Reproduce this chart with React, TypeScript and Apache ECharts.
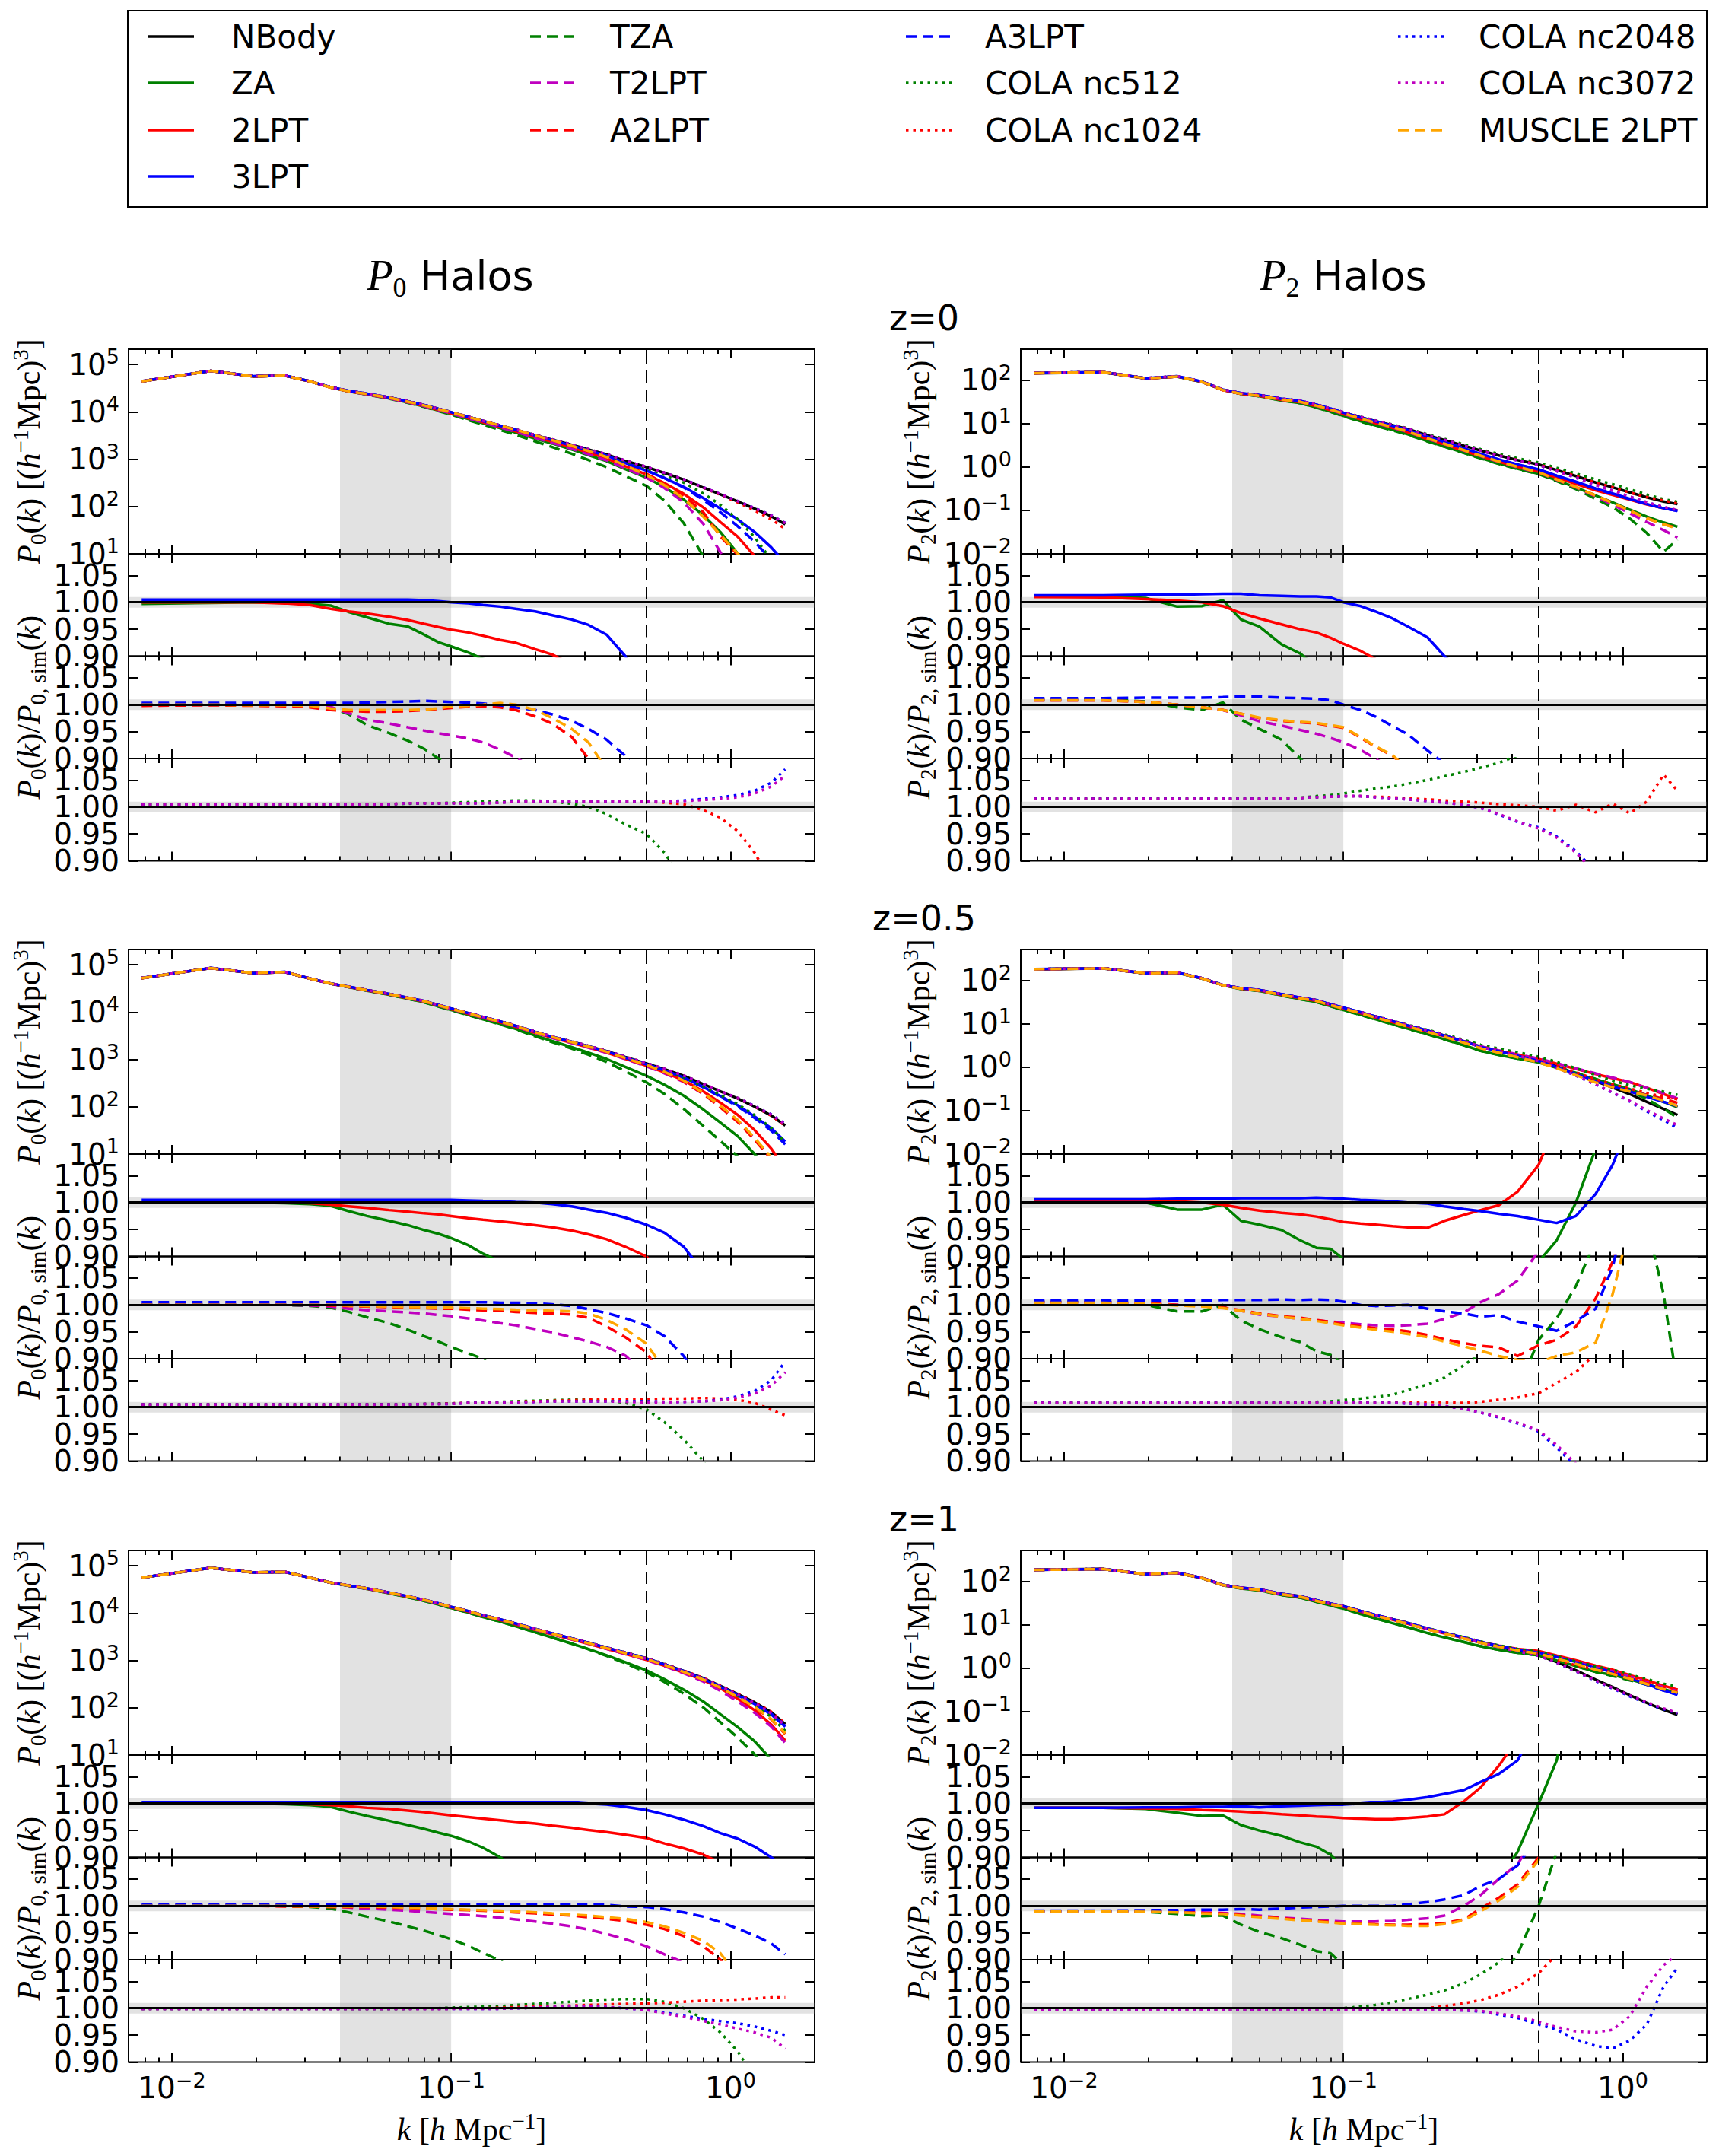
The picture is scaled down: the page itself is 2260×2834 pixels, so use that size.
import React, { useEffect, useRef } from 'react';
import * as echarts from 'echarts';

// ---------------- DATA ----------------
const K = [0.0078, 0.0138, 0.0196, 0.0254, 0.0312, 0.037, 0.043, 0.05, 0.06, 0.07, 0.08, 0.09, 0.1, 0.115, 0.13, 0.15, 0.17, 0.2, 0.23, 0.27, 0.31, 0.36, 0.42, 0.5, 0.58, 0.68, 0.8, 0.92, 1.06, 1.22, 1.4, 1.57];

const METHODS = ['NBody', 'ZA', '2LPT', '3LPT', 'TZA', 'T2LPT', 'A2LPT', 'A3LPT', 'COLA nc512', 'COLA nc1024', 'COLA nc2048', 'COLA nc3072', 'MUSCLE 2LPT'];
const COLORS = ['#000000', '#008000', '#ff0000', '#0000ff', '#008000', '#bf00bf', '#ff0000', '#0000ff', '#008000', '#ff0000', '#0000ff', '#bf00bf', '#ffa500'];
const STYLES = ['solid', 'solid', 'solid', 'solid', 'dashed', 'dashed', 'dashed', 'dashed', 'dotted', 'dotted', 'dotted', 'dotted', 'dashed'];
const RATIO_GROUPS = [[1, 2, 3], [4, 5, 6, 7, 12], [8, 9, 10, 11]];
const REDSHIFTS = ['z=0', 'z=0.5', 'z=1'];
const X_MAJOR = [0.01, 0.1, 1];
const X_MINOR = [0.008, 0.009, 0.02, 0.03, 0.04, 0.05, 0.06, 0.07, 0.08, 0.09, 0.2, 0.3, 0.4, 0.5, 0.6, 0.7, 0.8, 0.9];
const P0_TICKS = [10, 100, 1000, 10000, 100000];
const P2_TICKS = [0.01, 0.1, 1, 10, 100];
const RATIO_TICKS = [0.9, 0.95, 1.0, 1.05];
const SHADE_K = [0.04, 0.1];
const KNL = 0.5;

// NBody monopole / quadrupole, rows: z=0, 0.5, 1
const P0_Z0_NBODY = [44000, 73000, 56000, 58000, 44000, 33000, 27500, 24000, 20000, 16500, 13800, 11500, 9800, 7800, 6400, 5100, 4200, 3200, 2580, 2000, 1600, 1260, 920, 680, 510, 370, 250, 180, 128, 90, 62, 42];
const P0_Z05_NBODY = [52000, 85000, 66000, 70000, 51000, 40000, 34000, 29000, 24000, 20000, 17000, 14000, 11800, 9500, 7800, 6300, 5100, 3800, 3000, 2350, 1900, 1500, 1120, 820, 620, 450, 300, 210, 150, 100, 65, 40];
const P0_Z1_NBODY = [56000, 90000, 72000, 74000, 56000, 44000, 38000, 33000, 27000, 22500, 19000, 16000, 13500, 11000, 9000, 7300, 6000, 4600, 3700, 2900, 2350, 1850, 1450, 1100, 830, 600, 420, 290, 195, 130, 80, 45];
const P2_Z0_NBODY = [145, 152, 110, 122, 92, 60, 50, 45, 37, 33, 27, 22, 18, 14, 11.5, 9.2, 7.5, 5.4, 4.2, 3.1, 2.4, 1.85, 1.45, 1.15, 0.85, 0.62, 0.44, 0.34, 0.26, 0.2, 0.16, 0.14];
const P2_Z05_NBODY = [182, 190, 146, 152, 112, 78, 66, 60, 48, 40, 35, 28, 23.5, 18.5, 14.8, 11.5, 9.2, 7.0, 5.4, 4.0, 3.0, 2.4, 1.9, 1.45, 1.05, 0.72, 0.48, 0.34, 0.24, 0.16, 0.11, 0.08];
const P2_Z1_NBODY = [187, 195, 148, 160, 122, 84, 72, 66, 52, 46, 37, 31, 27, 21, 17, 13.5, 11, 8.2, 6.5, 5.0, 3.9, 3.1, 2.5, 2.0, 1.4, 0.9, 0.55, 0.37, 0.24, 0.16, 0.11, 0.085];

// ratios P/P_sim, rows in METHODS order without NBody
const P0_Z0_RATIOS = [
  /* ZA */ [0.997, 0.999, 1.0, 0.999, 0.997, 0.994, 0.982, 0.972, 0.96, 0.955, 0.94, 0.926, 0.918, 0.907, 0.895, 0.885, 0.87, 0.85, 0.83, 0.8, 0.76, 0.72, 0.67, 0.6, 0.5, 0.38, 0.26, 0.16, 0.08, 0.04, 0.02, 0.01],
  /* 2LPT */ [1.0, 1.0, 1.0, 0.998, 0.995, 0.988, 0.983, 0.979, 0.973, 0.967, 0.96, 0.954, 0.949, 0.944, 0.938, 0.93, 0.925, 0.913, 0.903, 0.885, 0.86, 0.82, 0.77, 0.7, 0.61, 0.5, 0.38, 0.26, 0.18, 0.1, 0.05, 0.025],
  /* 3LPT */ [1.005, 1.005, 1.005, 1.005, 1.005, 1.005, 1.005, 1.005, 1.005, 1.005, 1.004, 1.002, 1.0, 0.998, 0.995, 0.992, 0.988, 0.983, 0.976, 0.968, 0.958, 0.94, 0.9, 0.84, 0.78, 0.7, 0.6, 0.5, 0.42, 0.32, 0.22, 0.15],
  /* TZA */ [1.0, 1.0, 1.0, 1.0, 0.999, 0.995, 0.982, 0.962, 0.947, 0.933, 0.918, 0.9, 0.885, 0.86, 0.84, 0.81, 0.78, 0.74, 0.7, 0.65, 0.6, 0.54, 0.48, 0.4, 0.26, 0.12, 0.035, 0.01, 0.004, 0.002, 0.001, 0.001],
  /* T2LPT */ [1.0, 1.0, 1.0, 1.0, 1.0, 0.996, 0.984, 0.972, 0.965, 0.958, 0.952, 0.947, 0.943, 0.937, 0.93, 0.916, 0.902, 0.88, 0.86, 0.83, 0.79, 0.75, 0.7, 0.6, 0.48, 0.33, 0.17, 0.06, 0.02, 0.008, 0.003, 0.001],
  /* A2LPT */ [0.998, 0.999, 0.998, 0.997, 0.995, 0.99, 0.988, 0.987, 0.987, 0.988, 0.99, 0.992, 0.994, 0.996, 0.997, 0.995, 0.99, 0.978, 0.965, 0.94, 0.9, 0.86, 0.8, 0.72, 0.6, 0.46, 0.3, 0.13, 0.075, 0.035, 0.015, 0.007],
  /* A3LPT */ [1.003, 1.003, 1.003, 1.003, 1.003, 1.003, 1.003, 1.004, 1.005, 1.006, 1.007, 1.006, 1.005, 1.004, 1.002, 0.999, 0.995, 0.99, 0.982, 0.97, 0.955, 0.935, 0.905, 0.85, 0.78, 0.68, 0.55, 0.42, 0.3, 0.2, 0.12, 0.07],
  /* nc512 */ [1.005, 1.005, 1.005, 1.005, 1.005, 1.005, 1.005, 1.005, 1.005, 1.006, 1.007, 1.007, 1.008, 1.009, 1.01, 1.011, 1.012, 1.012, 1.01, 1.006, 1.0, 0.987, 0.968, 0.95, 0.915, 0.86, 0.75, 0.6, 0.42, 0.25, 0.12, 0.06],
  /* nc1024 */ [1.005, 1.005, 1.005, 1.005, 1.005, 1.005, 1.005, 1.005, 1.005, 1.007, 1.007, 1.007, 1.007, 1.007, 1.007, 1.008, 1.01, 1.01, 1.01, 1.01, 1.01, 1.011, 1.01, 1.01, 1.008, 1.005, 0.994, 0.98, 0.955, 0.915, 0.86, 0.8],
  /* nc2048 */ [1.005, 1.005, 1.005, 1.005, 1.005, 1.005, 1.005, 1.005, 1.005, 1.007, 1.007, 1.007, 1.007, 1.007, 1.007, 1.008, 1.01, 1.01, 1.01, 1.01, 1.01, 1.01, 1.01, 1.01, 1.01, 1.012, 1.015, 1.018, 1.022, 1.03, 1.045, 1.07],
  /* nc3072 */ [1.005, 1.005, 1.005, 1.005, 1.005, 1.005, 1.005, 1.005, 1.005, 1.007, 1.007, 1.007, 1.007, 1.007, 1.007, 1.008, 1.01, 1.01, 1.01, 1.01, 1.01, 1.01, 1.01, 1.01, 1.01, 1.011, 1.013, 1.015, 1.018, 1.025, 1.038, 1.058],
  /* MUSCLE */ [1.0, 1.0, 0.999, 0.999, 0.998, 0.993, 0.99, 0.99, 0.99, 0.99, 0.991, 0.993, 0.997, 0.998, 1.0, 1.003, 1.0, 0.99, 0.975, 0.955, 0.93, 0.88, 0.8, 0.68, 0.55, 0.4, 0.24, 0.14, 0.08, 0.04, 0.02, 0.01],
];
const P0_Z05_RATIOS = [
  /* ZA */ [1.0, 1.0, 1.0, 0.999, 0.997, 0.994, 0.984, 0.975, 0.966, 0.958, 0.949, 0.942, 0.934, 0.921, 0.905, 0.89, 0.87, 0.84, 0.81, 0.77, 0.73, 0.68, 0.62, 0.55, 0.47, 0.38, 0.29, 0.22, 0.16, 0.1, 0.06, 0.04],
  /* 2LPT */ [1.0, 1.0, 1.0, 1.0, 0.999, 0.996, 0.993, 0.99, 0.986, 0.983, 0.98, 0.978, 0.975, 0.971, 0.968, 0.965, 0.962, 0.958, 0.954, 0.948, 0.941, 0.932, 0.918, 0.9, 0.86, 0.8, 0.7, 0.58, 0.45, 0.32, 0.2, 0.12],
  /* 3LPT */ [1.005, 1.005, 1.005, 1.005, 1.005, 1.005, 1.005, 1.005, 1.005, 1.005, 1.005, 1.005, 1.005, 1.004, 1.003, 1.002, 1.001, 1.0, 0.997, 0.993, 0.987, 0.981, 0.972, 0.959, 0.944, 0.918, 0.87, 0.8, 0.72, 0.62, 0.54, 0.46],
  /* TZA */ [1.0, 1.0, 1.0, 1.0, 0.998, 0.995, 0.987, 0.977, 0.966, 0.954, 0.942, 0.932, 0.922, 0.91, 0.9, 0.87, 0.85, 0.81, 0.77, 0.72, 0.66, 0.59, 0.5, 0.4, 0.3, 0.2, 0.13, 0.09, 0.06, 0.035, 0.02, 0.01],
  /* T2LPT */ [1.0, 1.0, 1.0, 1.0, 0.999, 0.997, 0.993, 0.99, 0.988, 0.986, 0.984, 0.981, 0.979, 0.975, 0.971, 0.966, 0.962, 0.955, 0.949, 0.94, 0.932, 0.922, 0.906, 0.87, 0.82, 0.74, 0.62, 0.48, 0.34, 0.21, 0.12, 0.07],
  /* A2LPT */ [1.0, 1.0, 1.0, 1.0, 1.0, 0.999, 0.998, 0.997, 0.996, 0.995, 0.994, 0.993, 0.993, 0.991, 0.99, 0.989, 0.987, 0.985, 0.984, 0.982, 0.976, 0.96, 0.94, 0.912, 0.86, 0.76, 0.62, 0.46, 0.32, 0.2, 0.12, 0.07],
  /* A3LPT */ [1.005, 1.005, 1.005, 1.005, 1.005, 1.005, 1.005, 1.005, 1.005, 1.005, 1.005, 1.005, 1.005, 1.005, 1.005, 1.004, 1.004, 1.003, 1.001, 0.998, 0.992, 0.985, 0.975, 0.962, 0.942, 0.905, 0.85, 0.77, 0.68, 0.58, 0.48, 0.4],
  /* nc512 */ [1.005, 1.005, 1.005, 1.005, 1.005, 1.005, 1.005, 1.005, 1.005, 1.005, 1.006, 1.007, 1.007, 1.008, 1.009, 1.01, 1.011, 1.012, 1.013, 1.014, 1.014, 1.013, 1.008, 0.996, 0.972, 0.94, 0.9, 0.84, 0.76, 0.66, 0.55, 0.45],
  /* nc1024 */ [1.005, 1.005, 1.005, 1.005, 1.005, 1.005, 1.005, 1.005, 1.005, 1.005, 1.006, 1.006, 1.007, 1.008, 1.008, 1.009, 1.01, 1.011, 1.012, 1.013, 1.014, 1.015, 1.015, 1.015, 1.016, 1.016, 1.017, 1.016, 1.014, 1.008, 0.995, 0.985],
  /* nc2048 */ [1.005, 1.005, 1.005, 1.005, 1.005, 1.005, 1.005, 1.005, 1.005, 1.005, 1.006, 1.006, 1.006, 1.008, 1.008, 1.008, 1.009, 1.01, 1.011, 1.011, 1.011, 1.011, 1.011, 1.011, 1.01, 1.01, 1.011, 1.014, 1.02, 1.03, 1.05, 1.085],
  /* nc3072 */ [1.005, 1.005, 1.005, 1.005, 1.005, 1.005, 1.005, 1.005, 1.005, 1.005, 1.006, 1.006, 1.006, 1.008, 1.008, 1.008, 1.009, 1.01, 1.011, 1.011, 1.011, 1.011, 1.01, 1.009, 1.009, 1.01, 1.011, 1.013, 1.018, 1.025, 1.04, 1.065],
  /* MUSCLE */ [1.0, 1.0, 1.0, 1.0, 1.0, 1.0, 0.999, 0.998, 0.997, 0.996, 0.996, 0.995, 0.995, 0.994, 0.993, 0.992, 0.991, 0.99, 0.989, 0.988, 0.984, 0.972, 0.955, 0.928, 0.88, 0.79, 0.65, 0.5, 0.35, 0.22, 0.13, 0.08],
];
const P0_Z1_RATIOS = [
  /* ZA */ [1.0, 1.0, 1.0, 0.999, 0.997, 0.994, 0.985, 0.977, 0.968, 0.96, 0.953, 0.946, 0.94, 0.93, 0.918, 0.9, 0.88, 0.85, 0.82, 0.78, 0.74, 0.69, 0.63, 0.56, 0.48, 0.4, 0.32, 0.25, 0.2, 0.15, 0.1, 0.06],
  /* 2LPT */ [1.0, 1.0, 1.0, 1.0, 0.999, 0.997, 0.995, 0.992, 0.99, 0.987, 0.984, 0.981, 0.978, 0.975, 0.972, 0.969, 0.966, 0.963, 0.959, 0.955, 0.951, 0.947, 0.942, 0.936, 0.926, 0.917, 0.905, 0.89, 0.8, 0.68, 0.55, 0.45],
  /* 3LPT */ [1.002, 1.002, 1.002, 1.002, 1.002, 1.002, 1.002, 1.002, 1.002, 1.002, 1.002, 1.002, 1.002, 1.002, 1.002, 1.002, 1.002, 1.002, 1.002, 1.002, 1.0, 0.998, 0.994, 0.988, 0.98, 0.97, 0.958, 0.945, 0.935, 0.92, 0.9, 0.88],
  /* TZA */ [1.0, 1.0, 1.0, 1.0, 0.998, 0.995, 0.988, 0.98, 0.971, 0.962, 0.954, 0.946, 0.938, 0.926, 0.913, 0.898, 0.88, 0.85, 0.82, 0.78, 0.73, 0.67, 0.6, 0.51, 0.42, 0.33, 0.24, 0.17, 0.12, 0.08, 0.05, 0.03],
  /* T2LPT */ [1.0, 1.0, 1.0, 1.0, 1.0, 0.999, 0.997, 0.995, 0.993, 0.991, 0.989, 0.987, 0.985, 0.983, 0.981, 0.978, 0.975, 0.971, 0.967, 0.962, 0.956, 0.948, 0.938, 0.925, 0.91, 0.895, 0.85, 0.78, 0.7, 0.6, 0.5, 0.4],
  /* A2LPT */ [1.0, 1.0, 1.0, 0.999, 0.999, 0.998, 0.998, 0.998, 0.997, 0.996, 0.995, 0.994, 0.993, 0.992, 0.991, 0.99, 0.988, 0.986, 0.984, 0.982, 0.979, 0.976, 0.972, 0.965, 0.957, 0.944, 0.925, 0.9, 0.85, 0.78, 0.7, 0.62],
  /* A3LPT */ [1.002, 1.002, 1.002, 1.002, 1.002, 1.002, 1.002, 1.002, 1.002, 1.002, 1.002, 1.002, 1.002, 1.002, 1.002, 1.002, 1.002, 1.002, 1.002, 1.002, 1.002, 1.002, 0.999, 0.998, 0.994, 0.988, 0.98, 0.97, 0.958, 0.945, 0.93, 0.91],
  /* nc512 */ [0.999, 0.999, 0.999, 0.999, 0.999, 0.999, 0.999, 0.999, 0.999, 0.999, 1.0, 1.0, 1.001, 1.002, 1.003, 1.004, 1.006, 1.008, 1.01, 1.012, 1.014, 1.016, 1.017, 1.017, 1.012, 1.0, 0.98, 0.955, 0.92, 0.87, 0.8, 0.72],
  /* nc1024 */ [0.999, 0.999, 0.999, 0.999, 0.999, 0.999, 0.999, 0.999, 0.999, 0.999, 0.999, 0.999, 0.999, 1.0, 1.0, 1.001, 1.002, 1.003, 1.004, 1.005, 1.006, 1.007, 1.008, 1.009, 1.01, 1.012, 1.014, 1.015, 1.016, 1.018, 1.02, 1.02],
  /* nc2048 */ [0.999, 0.999, 0.999, 0.999, 0.999, 0.999, 0.999, 0.999, 0.999, 0.999, 0.999, 0.999, 0.999, 0.999, 0.999, 0.999, 1.0, 1.001, 1.002, 1.003, 1.003, 1.002, 1.0, 0.997, 0.992, 0.986, 0.98, 0.976, 0.972, 0.966, 0.958, 0.95],
  /* nc3072 */ [0.999, 0.999, 0.999, 0.999, 0.999, 0.999, 0.999, 0.999, 0.999, 0.999, 0.999, 0.999, 0.999, 0.999, 0.999, 0.999, 1.0, 1.001, 1.002, 1.003, 1.003, 1.002, 1.0, 0.997, 0.99, 0.984, 0.976, 0.97, 0.962, 0.955, 0.945, 0.925],
  /* MUSCLE */ [1.0, 1.0, 1.0, 1.0, 0.999, 0.999, 0.999, 0.999, 0.998, 0.997, 0.996, 0.995, 0.994, 0.993, 0.992, 0.991, 0.99, 0.988, 0.986, 0.984, 0.982, 0.979, 0.976, 0.97, 0.962, 0.95, 0.935, 0.912, 0.87, 0.8, 0.72, 0.64],
];
const P2_Z0_RATIOS = [
  /* ZA */ [1.011, 1.011, 1.008, 0.992, 0.993, 1.004, 0.968, 0.955, 0.922, 0.905, 0.88, 0.86, 0.84, 0.82, 0.8, 0.78, 0.76, 0.73, 0.71, 0.69, 0.67, 0.65, 0.63, 0.61, 0.58, 0.55, 0.5, 0.45, 0.4, 0.36, 0.33, 0.3],
  /* 2LPT */ [1.01, 1.009, 1.006, 1.003, 1.0, 0.993, 0.98, 0.97, 0.959, 0.95, 0.944, 0.934, 0.923, 0.91, 0.895, 0.87, 0.85, 0.82, 0.79, 0.76, 0.74, 0.72, 0.7, 0.68, 0.67, 0.66, 0.66, 0.67, 0.68, 0.69, 0.7, 0.72],
  /* 3LPT */ [1.013, 1.013, 1.014, 1.014, 1.015, 1.016, 1.016, 1.013, 1.012, 1.011, 1.011, 1.009, 1.0, 0.993, 0.983, 0.97, 0.955, 0.935, 0.9, 0.87, 0.84, 0.81, 0.79, 0.77, 0.75, 0.74, 0.73, 0.72, 0.71, 0.7, 0.7, 0.7],
  /* TZA */ [1.01, 1.01, 1.006, 0.995, 0.99, 1.004, 0.972, 0.955, 0.935, 0.9, 0.87, 0.85, 0.83, 0.8, 0.78, 0.76, 0.74, 0.72, 0.7, 0.68, 0.66, 0.64, 0.62, 0.6, 0.56, 0.5, 0.42, 0.35, 0.25, 0.15, 0.07, 0.15],
  /* T2LPT */ [1.008, 1.008, 1.005, 1.0, 0.995, 0.99, 0.98, 0.969, 0.961, 0.953, 0.946, 0.938, 0.93, 0.916, 0.9, 0.88, 0.86, 0.83, 0.8, 0.77, 0.74, 0.71, 0.68, 0.65, 0.6, 0.55, 0.48, 0.4, 0.33, 0.27, 0.22, 0.17],
  /* A2LPT */ [1.008, 1.008, 1.005, 1.0, 0.995, 0.99, 0.983, 0.975, 0.97, 0.967, 0.965, 0.961, 0.957, 0.939, 0.922, 0.905, 0.88, 0.85, 0.82, 0.79, 0.76, 0.73, 0.7, 0.66, 0.61, 0.56, 0.5, 0.44, 0.38, 0.33, 0.3, 0.28],
  /* A3LPT */ [1.012, 1.012, 1.013, 1.013, 1.013, 1.014, 1.015, 1.015, 1.013, 1.012, 1.011, 1.008, 1.0, 0.99, 0.978, 0.96, 0.945, 0.915, 0.89, 0.86, 0.83, 0.8, 0.78, 0.76, 0.74, 0.73, 0.72, 0.71, 0.7, 0.7, 0.7, 0.7],
  /* nc512 */ [1.015, 1.015, 1.015, 1.015, 1.015, 1.015, 1.015, 1.015, 1.016, 1.017, 1.02, 1.022, 1.025, 1.03, 1.034, 1.038, 1.043, 1.05, 1.057, 1.065, 1.073, 1.082, 1.095, 1.11, 1.13, 1.15, 1.17, 1.18, 1.18, 1.16, 1.14, 1.12],
  /* nc1024 */ [1.015, 1.015, 1.015, 1.015, 1.015, 1.015, 1.015, 1.015, 1.016, 1.017, 1.018, 1.019, 1.02, 1.02, 1.019, 1.018, 1.016, 1.014, 1.012, 1.01, 1.008, 1.005, 1.003, 1.0, 0.993, 1.004, 0.99, 1.006, 0.988, 1.01, 1.06, 1.03],
  /* nc2048 */ [1.015, 1.015, 1.015, 1.015, 1.015, 1.015, 1.015, 1.015, 1.016, 1.017, 1.018, 1.019, 1.02, 1.02, 1.018, 1.016, 1.014, 1.011, 1.008, 1.004, 0.998, 0.986, 0.972, 0.962, 0.945, 0.918, 0.88, 0.84, 0.8, 0.77, 0.74, 0.72],
  /* nc3072 */ [1.015, 1.015, 1.015, 1.015, 1.015, 1.015, 1.015, 1.015, 1.016, 1.017, 1.018, 1.019, 1.02, 1.02, 1.018, 1.016, 1.014, 1.011, 1.008, 1.004, 0.998, 0.987, 0.973, 0.96, 0.943, 0.915, 0.877, 0.84, 0.8, 0.77, 0.75, 0.73],
  /* MUSCLE */ [1.008, 1.008, 1.005, 1.0, 0.995, 0.99, 0.983, 0.976, 0.971, 0.968, 0.966, 0.962, 0.958, 0.94, 0.923, 0.906, 0.88, 0.85, 0.82, 0.79, 0.76, 0.73, 0.7, 0.66, 0.61, 0.56, 0.5, 0.44, 0.38, 0.33, 0.3, 0.27],
];
const P2_Z05_RATIOS = [
  /* ZA */ [1.005, 1.004, 1.0, 0.987, 0.987, 0.996, 0.966, 0.959, 0.949, 0.93, 0.916, 0.914, 0.895, 0.88, 0.87, 0.86, 0.85, 0.83, 0.82, 0.81, 0.8, 0.8, 0.83, 0.89, 0.93, 1.0, 1.1, 1.2, 1.3, 1.4, 1.45, 1.5],
  /* 2LPT */ [1.005, 1.005, 1.004, 1.002, 1.0, 0.996, 0.99, 0.985, 0.981, 0.978, 0.974, 0.969, 0.964, 0.961, 0.959, 0.956, 0.954, 0.953, 0.966, 0.977, 0.986, 0.995, 1.02, 1.07, 1.15, 1.27, 1.45, 1.65, 1.9, 2.1, 2.2, 2.3],
  /* 3LPT */ [1.006, 1.006, 1.006, 1.007, 1.007, 1.007, 1.008, 1.008, 1.008, 1.008, 1.009, 1.008, 1.007, 1.005, 1.004, 1.002, 1.0, 0.998, 0.993, 0.988, 0.984, 0.979, 0.975, 0.968, 0.962, 0.975, 1.016, 1.07, 1.15, 1.3, 1.45, 1.6],
  /* TZA */ [1.006, 1.005, 1.0, 0.988, 0.988, 1.0, 0.971, 0.955, 0.94, 0.931, 0.914, 0.907, 0.89, 0.87, 0.86, 0.85, 0.84, 0.82, 0.81, 0.8, 0.8, 0.81, 0.84, 0.935, 0.975, 1.035, 1.12, 1.18, 1.2, 1.15, 1.02, 0.85],
  /* T2LPT */ [1.005, 1.005, 1.003, 1.0, 0.998, 0.995, 0.989, 0.982, 0.978, 0.974, 0.971, 0.969, 0.967, 0.964, 0.962, 0.961, 0.962, 0.965, 0.974, 0.986, 1.005, 1.02, 1.045, 1.1, 1.18, 1.3, 1.5, 1.7, 1.9, 2.1, 2.3, 2.4],
  /* A2LPT */ [1.005, 1.005, 1.003, 1.0, 0.998, 0.995, 0.99, 0.984, 0.979, 0.976, 0.972, 0.968, 0.964, 0.96, 0.957, 0.954, 0.951, 0.944, 0.936, 0.929, 0.924, 0.921, 0.905, 0.925, 0.935, 0.96, 1.012, 1.08, 1.2, 1.45, 1.7, 1.9],
  /* A3LPT */ [1.008, 1.008, 1.008, 1.008, 1.008, 1.009, 1.009, 1.009, 1.01, 1.009, 1.01, 1.009, 1.006, 1.0, 0.998, 0.999, 1.0, 0.993, 0.988, 0.984, 0.978, 0.981, 0.969, 0.96, 0.952, 0.97, 0.993, 1.07, 1.2, 1.4, 1.55, 1.6],
  /* nc512 */ [1.008, 1.008, 1.008, 1.008, 1.008, 1.008, 1.008, 1.008, 1.008, 1.009, 1.01, 1.011, 1.013, 1.016, 1.019, 1.023, 1.032, 1.042, 1.055, 1.078, 1.1, 1.13, 1.17, 1.21, 1.26, 1.32, 1.38, 1.45, 1.6, 2.0, 2.5, 2.9],
  /* nc1024 */ [1.008, 1.008, 1.008, 1.008, 1.008, 1.008, 1.008, 1.008, 1.008, 1.01, 1.01, 1.01, 1.01, 1.01, 1.01, 1.01, 1.01, 1.01, 1.009, 1.008, 1.01, 1.014, 1.018, 1.026, 1.045, 1.065, 1.1, 1.2, 1.35, 1.6, 1.9, 2.3],
  /* nc2048 */ [1.008, 1.008, 1.008, 1.008, 1.008, 1.008, 1.008, 1.008, 1.008, 1.008, 1.008, 1.008, 1.008, 1.008, 1.008, 1.008, 1.007, 1.005, 1.002, 0.997, 0.99, 0.981, 0.97, 0.955, 0.925, 0.89, 0.83, 0.76, 0.68, 0.6, 0.55, 0.5],
  /* nc3072 */ [1.008, 1.008, 1.008, 1.008, 1.008, 1.008, 1.008, 1.008, 1.008, 1.008, 1.008, 1.008, 1.008, 1.008, 1.008, 1.008, 1.007, 1.005, 1.002, 0.997, 0.99, 0.982, 0.971, 0.957, 0.93, 0.895, 0.84, 0.77, 0.7, 0.64, 0.6, 0.58],
  /* MUSCLE */ [1.004, 1.004, 1.002, 0.999, 0.997, 0.994, 0.989, 0.983, 0.978, 0.974, 0.97, 0.966, 0.962, 0.958, 0.954, 0.95, 0.946, 0.94, 0.932, 0.923, 0.915, 0.905, 0.898, 0.893, 0.905, 0.912, 0.93, 1.02, 1.15, 1.4, 1.55, 1.6],
];
const P2_Z1_RATIOS = [
  /* ZA */ [0.992, 0.992, 0.99, 0.983, 0.977, 0.978, 0.96, 0.95, 0.94, 0.928, 0.92, 0.905, 0.88, 0.85, 0.83, 0.81, 0.8, 0.79, 0.79, 0.8, 0.82, 0.86, 0.91, 1.0, 1.08, 1.25, 1.5, 1.9, 2.3, 2.7, 3.0, 3.2],
  /* 2LPT */ [0.992, 0.992, 0.991, 0.99, 0.988, 0.987, 0.985, 0.983, 0.98, 0.978, 0.976, 0.975, 0.973, 0.972, 0.971, 0.971, 0.973, 0.976, 0.98, 1.004, 1.03, 1.07, 1.12, 1.25, 1.4, 1.7, 2.1, 2.5, 2.9, 3.3, 3.6, 3.8],
  /* 3LPT */ [0.992, 0.992, 0.993, 0.993, 0.994, 0.994, 0.995, 0.993, 0.995, 0.996, 0.997, 0.998, 0.998, 1.0, 1.002, 1.004, 1.007, 1.012, 1.018, 1.025, 1.04, 1.055, 1.08, 1.15, 1.3, 1.55, 1.9, 2.2, 2.5, 2.7, 2.8, 2.9],
  /* TZA */ [0.99, 0.99, 0.989, 0.985, 0.981, 0.982, 0.965, 0.952, 0.94, 0.928, 0.916, 0.912, 0.89, 0.86, 0.84, 0.82, 0.81, 0.8, 0.8, 0.81, 0.83, 0.86, 0.91, 1.0, 1.1, 1.25, 1.5, 1.8, 2.2, 2.6, 2.9, 3.1],
  /* T2LPT */ [0.99, 0.99, 0.99, 0.989, 0.988, 0.987, 0.985, 0.982, 0.978, 0.976, 0.974, 0.972, 0.971, 0.971, 0.971, 0.972, 0.974, 0.977, 0.982, 1.0, 1.02, 1.05, 1.077, 1.14, 1.3, 1.55, 1.9, 2.3, 2.7, 3.0, 3.3, 3.5],
  /* A2LPT */ [0.99, 0.99, 0.99, 0.989, 0.987, 0.986, 0.983, 0.98, 0.977, 0.974, 0.972, 0.97, 0.968, 0.967, 0.966, 0.965, 0.965, 0.966, 0.968, 0.975, 0.995, 1.015, 1.04, 1.09, 1.2, 1.4, 1.7, 2.0, 2.4, 2.8, 3.1, 3.3],
  /* A3LPT */ [0.991, 0.991, 0.992, 0.992, 0.993, 0.993, 0.994, 0.993, 0.995, 0.997, 0.998, 0.999, 1.0, 1.0, 1.0, 1.0, 1.003, 1.007, 1.012, 1.02, 1.037, 1.05, 1.075, 1.13, 1.25, 1.5, 1.8, 2.1, 2.4, 2.6, 2.8, 2.9],
  /* nc512 */ [0.997, 0.997, 0.997, 0.997, 0.997, 0.997, 0.997, 0.997, 0.997, 0.997, 0.998, 0.999, 1.0, 1.003, 1.006, 1.011, 1.017, 1.025, 1.033, 1.046, 1.063, 1.085, 1.12, 1.2, 1.35, 1.6, 2.0, 2.5, 3.0, 3.5, 4.0, 4.5],
  /* nc1024 */ [0.997, 0.997, 0.997, 0.997, 0.997, 0.997, 0.997, 0.997, 0.997, 0.997, 0.997, 0.997, 0.997, 0.997, 0.997, 0.997, 0.998, 1.0, 1.004, 1.009, 1.015, 1.025, 1.04, 1.065, 1.1, 1.3, 1.7, 2.2, 2.7, 3.1, 3.5, 3.8],
  /* nc2048 */ [0.997, 0.997, 0.997, 0.997, 0.997, 0.997, 0.997, 0.997, 0.997, 0.997, 0.997, 0.997, 0.997, 0.997, 0.997, 0.997, 0.997, 0.997, 0.997, 0.996, 0.994, 0.988, 0.982, 0.97, 0.96, 0.942, 0.93, 0.925, 0.94, 0.97, 1.04, 1.075],
  /* nc3072 */ [0.997, 0.997, 0.997, 0.997, 0.997, 0.997, 0.997, 0.997, 0.997, 0.997, 0.997, 0.997, 0.997, 0.997, 0.997, 0.997, 0.997, 0.997, 0.997, 0.996, 0.995, 0.99, 0.985, 0.975, 0.965, 0.957, 0.955, 0.96, 0.985, 1.04, 1.08, 1.1],
  /* MUSCLE */ [0.99, 0.99, 0.989, 0.988, 0.986, 0.985, 0.982, 0.979, 0.976, 0.973, 0.971, 0.969, 0.967, 0.966, 0.965, 0.964, 0.963, 0.963, 0.966, 0.973, 0.99, 1.01, 1.035, 1.085, 1.2, 1.4, 1.7, 2.0, 2.4, 2.7, 3.0, 3.2],
];

const NBODY = [[P0_Z0_NBODY, P0_Z05_NBODY, P0_Z1_NBODY], [P2_Z0_NBODY, P2_Z05_NBODY, P2_Z1_NBODY]];
const RATIOS = [[P0_Z0_RATIOS, P0_Z05_RATIOS, P0_Z1_RATIOS], [P2_Z0_RATIOS, P2_Z05_RATIOS, P2_Z1_RATIOS]];

// ---------------- LAYOUT ----------------
const W = 2260;
const H = 2834;
const XMIN = 0.007;
const XMAX = 2.0;
const LEFTS = [169, 1342];
const PW = 902;
const ROW_TOPS = [459, 1248, 2038];
const MAIN_H = 269;
const RAT_H = 134.5;
const TICK_FONT = 'DejaVu Sans';
const SERIF = 'Liberation Serif';
const BAND = 'rgba(128,128,128,0.23)';
const LW = 3.5;

const dashOf = (s: string): any => (s === 'dashed' ? [14, 8] : s === 'dotted' ? [3.5, 6] : 'solid');
const expFmt = (v: number) => {
  const e = Math.round(Math.log10(v));
  return `{b|10}{s|${e < 0 ? '\u2212' + -e : e}}`;
};

const TICK_RICH = {
  b: { fontFamily: TICK_FONT, fontSize: 39, lineHeight: 48, color: '#000' },
  s: { fontFamily: TICK_FONT, fontSize: 27, lineHeight: 27, verticalAlign: 'top', color: '#000' },
};

const MATH_RICH: any = {
  i: { fontFamily: SERIF, fontStyle: 'italic', fontSize: 42, lineHeight: 52, fill: '#000', color: '#000' },
  r: { fontFamily: SERIF, fontSize: 42, lineHeight: 52, fill: '#000', color: '#000' },
  sub: { fontFamily: SERIF, fontSize: 29, lineHeight: 29, verticalAlign: 'bottom', fill: '#000', color: '#000' },
  sup: { fontFamily: SERIF, fontSize: 29, lineHeight: 29, verticalAlign: 'top', fill: '#000', color: '#000' },
};
const TITLE_RICH: any = {
  i: { fontFamily: SERIF, fontStyle: 'italic', fontSize: 56, lineHeight: 68, fill: '#000', color: '#000' },
  sub: { fontFamily: SERIF, fontSize: 36, lineHeight: 36, verticalAlign: 'bottom', fill: '#000', color: '#000' },
  t: { fontFamily: TICK_FONT, fontSize: 54, lineHeight: 68, fill: '#000', color: '#000' },
};

const Y_MAIN = [
  { type: 'log', min: 10, max: 210000, ticks: P0_TICKS, labelSets: [P0_TICKS], fmt: expFmt, rich: true },
  { type: 'log', min: 0.01, max: 520, ticks: P2_TICKS, labelSets: [P2_TICKS], fmt: expFmt, rich: true },
];
// ratio labels are split over two coincident axes so that neighbouring labels are never culled
const Y_RATIO = { type: 'value', min: 0.9, max: 1.09, ticks: RATIO_TICKS, labelSets: [[RATIO_TICKS[0], RATIO_TICKS[2]], [RATIO_TICKS[1], RATIO_TICKS[3]]], fmt: (v: number) => v.toFixed(2), rich: false };

const Y_LABEL_MAIN = ['{i|P}{sub|0}{r|(}{i|k}{r|) [(}{i|h}{sup|\u22121}{r|Mpc)}{sup|3}{r|]}', '{i|P}{sub|2}{r|(}{i|k}{r|) [(}{i|h}{sup|\u22121}{r|Mpc)}{sup|3}{r|]}'];
const Y_LABEL_RATIO = ['{i|P}{sub|0}{r|(}{i|k}{r|)/}{i|P}{sub|0, sim}{r|(}{i|k}{r|)}', '{i|P}{sub|2}{r|(}{i|k}{r|)/}{i|P}{sub|2, sim}{r|(}{i|k}{r|)}'];
const TITLES = ['{i|P}{sub|0}{t| Halos}', '{i|P}{sub|2}{t| Halos}'];
const TITLE_X = [592, 1766];
const YLAB_X = [38, 1208];

function buildOption(): any {
  const grid: any[] = [];
  const xAxis: any[] = [];
  const yAxis: any[] = [];
  const series: any[] = [];
  const elements: any[] = [];

  const labelBase = { showMinLabel: true, showMaxLabel: true, hideOverlap: false, color: '#000', fontFamily: TICK_FONT, fontSize: 39 };
  const noLine = { show: false, onZero: false };
  const noSplit = { splitLine: { show: false }, minorTick: { show: false }, minorSplitLine: { show: false } };

  const addPanel = (left: number, top: number, height: number, y: any, showX: boolean) => {
    const g = grid.length;
    grid.push({ left, top, width: PW, height, show: true, borderColor: '#000', borderWidth: 2, backgroundColor: 'rgba(0,0,0,0)', containLabel: false, outerBoundsMode: 'none' });
    const xi = xAxis.length;
    ['bottom', 'top'].forEach((pos) => {
      [true, false].forEach((major) => {
        const label = showX && pos === 'bottom' && major
          ? { ...labelBase, show: true, customValues: X_MAJOR, formatter: expFmt, rich: TICK_RICH, margin: 10 }
          : { show: false };
        xAxis.push({
          type: 'log', logBase: 10, gridIndex: g, min: XMIN, max: XMAX, position: pos, silent: true,
          axisLine: noLine,
          axisTick: { show: true, inside: true, length: major ? 12 : 6, customValues: major ? X_MAJOR : X_MINOR, lineStyle: { color: '#000', width: 2 } },
          axisLabel: label,
          ...noSplit,
        });
      });
    });
    const yi = yAxis.length;
    // left axes carry labels (first one also carries ticks and the series)
    y.labelSets.forEach((vals: number[], si: number) => {
      const lab: any = y.rich
        ? { ...labelBase, show: true, customValues: vals, formatter: y.fmt, rich: TICK_RICH, margin: 12 }
        : { ...labelBase, show: true, customValues: vals, formatter: y.fmt, margin: 12 };
      yAxis.push({
        type: y.type, logBase: 10, gridIndex: g, min: y.min, max: y.max, position: 'left', silent: true,
        axisLine: noLine,
        axisTick: si === 0 ? { show: true, inside: true, length: 12, customValues: y.ticks, lineStyle: { color: '#000', width: 2 } } : { show: false },
        axisLabel: lab,
        ...noSplit,
      });
    });
    yAxis.push({
      type: y.type, logBase: 10, gridIndex: g, min: y.min, max: y.max, position: 'right', silent: true,
      axisLine: noLine,
      axisTick: { show: true, inside: true, length: 12, customValues: y.ticks, lineStyle: { color: '#000', width: 2 } },
      axisLabel: { show: false },
      ...noSplit,
    });
    return { xi, yi };
  };

  const addHelper = (p: { xi: number; yi: number }, isRatio: boolean) => {
    const areas: any[] = [[{ xAxis: SHADE_K[0] }, { xAxis: SHADE_K[1] }]];
    if (isRatio) areas.push([{ yAxis: 0.99 }, { yAxis: 1.01 }]);
    const lines: any[] = [{ xAxis: KNL, lineStyle: { type: [16, 9], color: '#000', width: 2 } }];
    if (isRatio) lines.push({ yAxis: 1.0, lineStyle: { type: 'solid', color: '#000', width: 3 } });
    series.push({
      type: 'line', xAxisIndex: p.xi, yAxisIndex: p.yi, data: [], z: 1, silent: true, symbol: 'none',
      markArea: { silent: true, itemStyle: { color: BAND, borderWidth: 0 }, label: { show: false }, data: areas },
      markLine: { silent: true, symbol: ['none', 'none'], label: { show: false }, data: lines },
    });
  };

  const addLine = (p: { xi: number; yi: number }, mi: number, data: number[][]) => {
    series.push({
      type: 'line', name: METHODS[mi], xAxisIndex: p.xi, yAxisIndex: p.yi, data, z: 3,
      symbol: 'none', showSymbol: false, silent: true, clip: true,
      lineStyle: { color: COLORS[mi], width: LW, type: dashOf(STYLES[mi]), cap: 'butt' },
    });
  };

  [0, 1].forEach((c) => {
    REDSHIFTS.forEach((_, r) => {
      const nb = NBODY[c][r];
      const rt = RATIOS[c][r];
      const top = ROW_TOPS[r];
      const main = addPanel(LEFTS[c], top, MAIN_H, Y_MAIN[c], false);
      addHelper(main, false);
      METHODS.forEach((_, mi) => {
        addLine(main, mi, K.map((k, i) => [k, mi === 0 ? nb[i] : nb[i] * rt[mi - 1][i]]));
      });
      RATIO_GROUPS.forEach((grp, j) => {
        const p = addPanel(LEFTS[c], top + MAIN_H + j * RAT_H, RAT_H, Y_RATIO, r === 2 && j === 2);
        addHelper(p, true);
        grp.forEach((mi) => addLine(p, mi, K.map((k, i) => [k, rt[mi - 1][i]])));
      });
      elements.push({ type: 'text', x: YLAB_X[c], y: top + MAIN_H / 2, rotation: Math.PI / 2, style: { text: Y_LABEL_MAIN[c], rich: MATH_RICH, align: 'center', verticalAlign: 'middle', fill: '#000' } });
      elements.push({ type: 'text', x: YLAB_X[c], y: top + MAIN_H + 1.5 * RAT_H, rotation: Math.PI / 2, style: { text: Y_LABEL_RATIO[c], rich: MATH_RICH, align: 'center', verticalAlign: 'middle', fill: '#000' } });
    });
    elements.push({ type: 'text', x: TITLE_X[c], y: 362, style: { text: TITLES[c], rich: TITLE_RICH, align: 'center', verticalAlign: 'middle', fill: '#000' } });
    elements.push({ type: 'text', x: LEFTS[c] + PW / 2, y: 2799, style: { text: '{i|k}{r| [}{i|h}{r| Mpc}{sup|\u22121}{r|]}', rich: MATH_RICH, align: 'center', verticalAlign: 'middle', fill: '#000' } });
  });

  REDSHIFTS.forEach((zl, r) => {
    elements.push({ type: 'text', x: 1215, y: ROW_TOPS[r] - 41, style: { text: zl, fontFamily: TICK_FONT, fontSize: 46, fill: '#000', align: 'center', verticalAlign: 'middle' } });
  });

  // legend
  const LEG_COLS = [[0, 1, 2, 3], [4, 5, 6], [7, 8, 9], [10, 11, 12]];
  const LEG_LINE_X = [195, 697, 1191, 1838];
  const LEG_TEXT_X = [304, 802, 1295, 1944];
  const LEG_ROW_Y = [48, 109, 171, 232];
  elements.push({ type: 'rect', shape: { x: 168, y: 14, width: 2076, height: 258 }, style: { fill: 'none', stroke: '#000', lineWidth: 2 } });
  LEG_COLS.forEach((col, ci) => {
    col.forEach((mi, ri) => {
      const d = dashOf(STYLES[mi]);
      elements.push({ type: 'line', shape: { x1: LEG_LINE_X[ci], y1: LEG_ROW_Y[ri], x2: LEG_LINE_X[ci] + 60, y2: LEG_ROW_Y[ri] }, style: { stroke: COLORS[mi], lineWidth: LW, lineDash: d === 'solid' ? null : d } });
      elements.push({ type: 'text', x: LEG_TEXT_X[ci], y: LEG_ROW_Y[ri], style: { text: METHODS[mi], fontFamily: TICK_FONT, fontSize: 42, fill: '#000', align: 'left', verticalAlign: 'middle' } });
    });
  });

  return {
    animation: false,
    backgroundColor: '#ffffff',
    grid, xAxis, yAxis, series,
    graphic: { elements },
  };
}

export default function App() {
  const ref = useRef<HTMLDivElement>(null);
  useEffect(() => {
    document.body.style.margin = '0';
    if (!ref.current) return;
    const chart = echarts.init(ref.current, null, { renderer: 'svg', width: W, height: H });
    chart.setOption(buildOption());
    return () => chart.dispose();
  }, []);
  return <div ref={ref} style={{ width: W, height: H, position: 'absolute', left: 0, top: 0, background: '#fff' }} />;
}
